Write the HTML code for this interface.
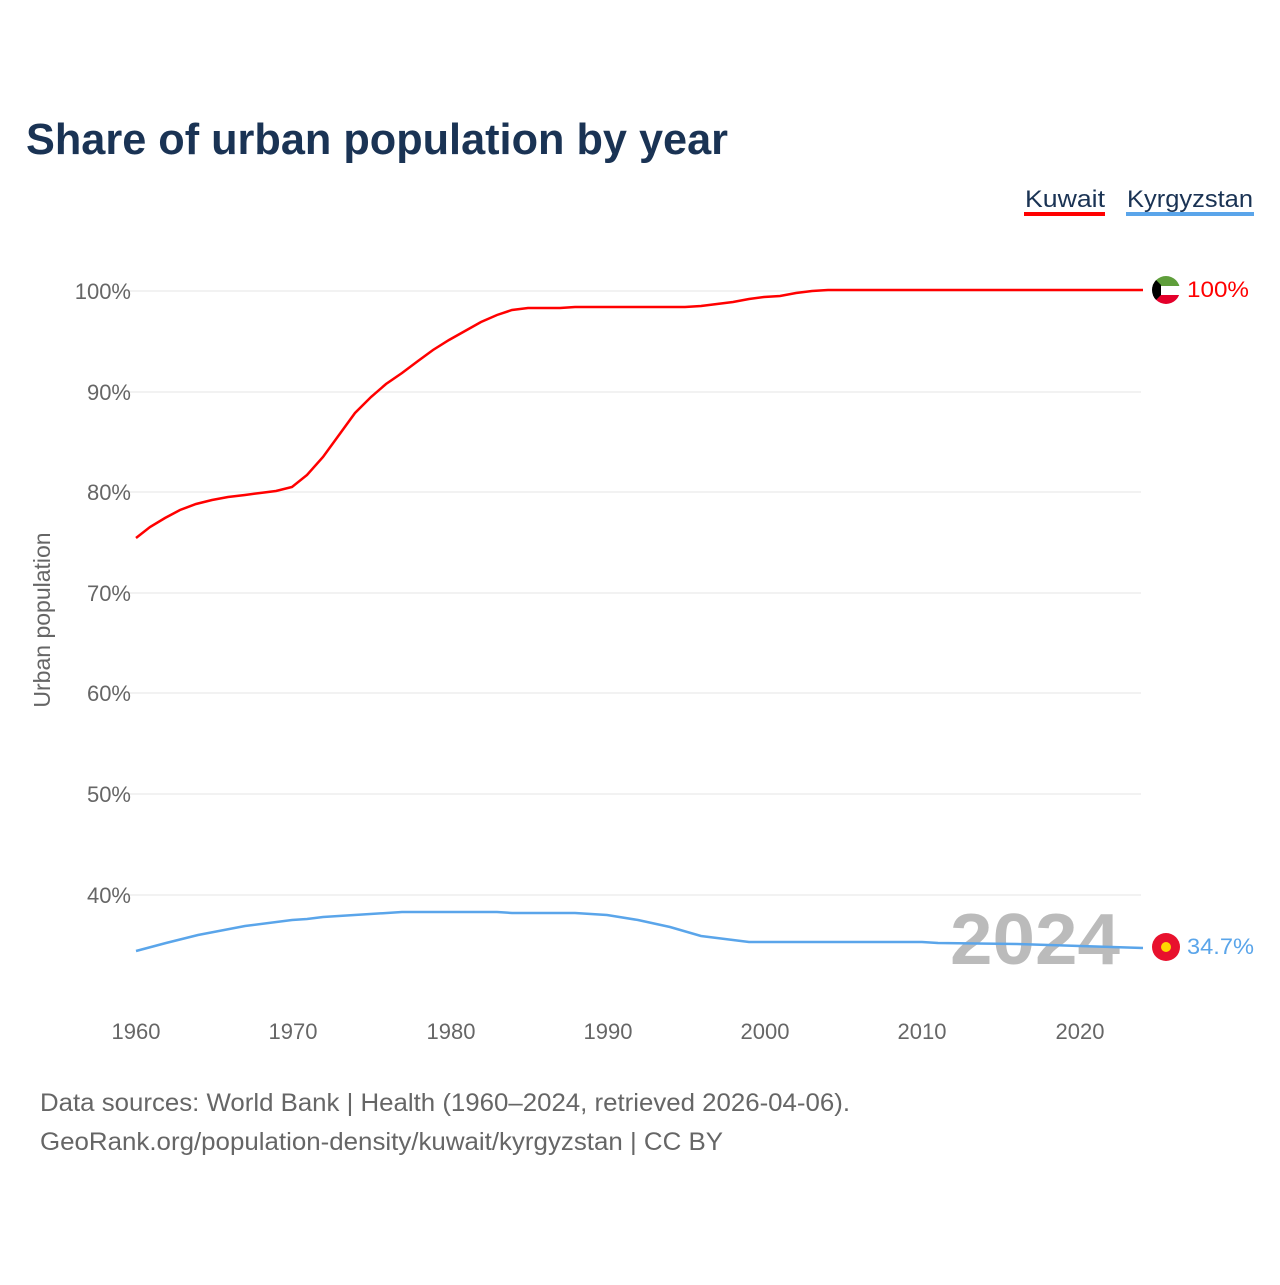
<!DOCTYPE html>
<html><head><meta charset="utf-8"><style>
body{margin:0;background:#fff;font-family:"Liberation Sans",sans-serif}
</style></head><body>
<svg width="1280" height="1280" xmlns="http://www.w3.org/2000/svg" font-family="Liberation Sans, sans-serif">
<rect width="1280" height="1280" fill="#fff"/>
<text x="26" y="154" font-size="44" font-weight="bold" fill="#1a3354" textLength="702" lengthAdjust="spacingAndGlyphs">Share of urban population by year</text>
<text x="1025" y="207" font-size="24" fill="#1a3354" textLength="80" lengthAdjust="spacingAndGlyphs">Kuwait</text>
<rect x="1024" y="212" width="81" height="4" fill="#f00"/>
<text x="1127" y="207" font-size="24" fill="#1a3354" textLength="126" lengthAdjust="spacingAndGlyphs">Kyrgyzstan</text>
<rect x="1126" y="212" width="128" height="4" fill="#5aa5ea"/>
<g stroke="#e6e6e6" stroke-width="1">
<line x1="130" x2="1141" y1="291" y2="291"/><line x1="130" x2="1141" y1="392" y2="392"/>
<line x1="130" x2="1141" y1="492" y2="492"/><line x1="130" x2="1141" y1="593" y2="593"/>
<line x1="130" x2="1141" y1="693" y2="693"/><line x1="130" x2="1141" y1="794" y2="794"/>
<line x1="130" x2="1141" y1="895" y2="895"/>
</g>
<g font-size="22" fill="#666" text-anchor="end">
<text x="131" y="299">100%</text><text x="131" y="400">90%</text><text x="131" y="500">80%</text>
<text x="131" y="601">70%</text><text x="131" y="701">60%</text><text x="131" y="802">50%</text>
<text x="131" y="903">40%</text>
</g>
<text transform="translate(50,620) rotate(-90)" font-size="23" fill="#666" text-anchor="middle">Urban population</text>
<g font-size="22" fill="#666" text-anchor="middle">
<text x="136" y="1039">1960</text><text x="293" y="1039">1970</text><text x="451" y="1039">1980</text>
<text x="608" y="1039">1990</text><text x="765" y="1039">2000</text><text x="922" y="1039">2010</text>
<text x="1080" y="1039">2020</text>
</g>
<text x="1120" y="964" font-size="72" font-weight="bold" fill="#bbb" text-anchor="end" textLength="170" lengthAdjust="spacingAndGlyphs">2024</text>
<polyline fill="none" stroke="#f00" stroke-width="2.5" points="136,538 150,527 165,518 180,510 196,504 212,500 228,497 245,495 260,493 276,491 292,487 307,475 323,457 339,435 355,413 371,397 386,384 402,373 418,361 433,350 449,340 465,331 481,322 497,315 512,310 528,308 560,308 575,307 685,307 701,306 717,304 733,302 749,299 764,297 780,296 796,293 812,291 828,290 843,290 1143,290"/>
<polyline fill="none" stroke="#5aa5ea" stroke-width="2.5" points="136,951 166,943 198,935 245,926 292,920 307,919 323,917 402,912 497,912 512,913 575,913 607,915 638,920 670,927 701,936 733,940 749,942 922,942 938,943 1017,944 1080,946 1143,948"/>
<clipPath id="c1"><circle cx="1166" cy="290" r="14"/></clipPath>
<g clip-path="url(#c1)">
<rect x="1152" y="276" width="28" height="10" fill="#5f9e3b"/>
<rect x="1152" y="286" width="28" height="9" fill="#fff"/>
<rect x="1152" y="295" width="28" height="10" fill="#e4002b"/>
<polygon points="1152,276 1161,285 1161,295 1152,304" fill="#000"/>
</g>
<circle cx="1166" cy="947" r="14" fill="#e8112d"/>
<circle cx="1166" cy="947" r="5" fill="#ffd700"/>
<text x="1187" y="297" font-size="22" fill="#f00" textLength="62" lengthAdjust="spacingAndGlyphs">100%</text>
<text x="1187" y="954" font-size="22" fill="#5aa5ea" textLength="67" lengthAdjust="spacingAndGlyphs">34.7%</text>
<text x="40" y="1111" font-size="25" fill="#666" textLength="810" lengthAdjust="spacingAndGlyphs">Data sources: World Bank | Health (1960–2024, retrieved 2026-04-06).</text>
<text x="40" y="1150" font-size="25" fill="#666" textLength="683" lengthAdjust="spacingAndGlyphs">GeoRank.org/population-density/kuwait/kyrgyzstan | CC BY</text>
</svg>
</body></html>
